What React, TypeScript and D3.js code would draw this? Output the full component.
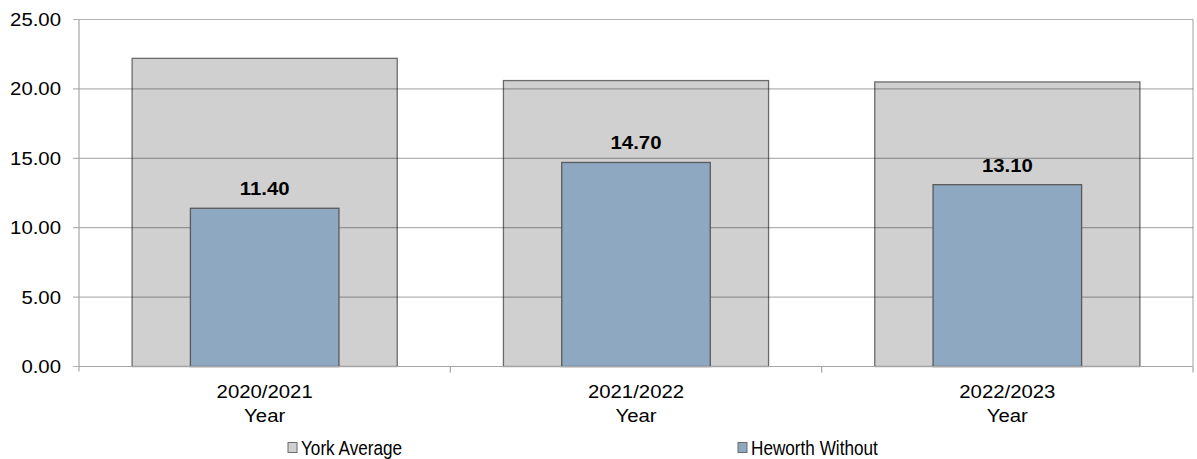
import React from "react";
import * as d3 from "d3";

const categories = ["2020/2021", "2021/2022", "2022/2023"];
const yorkAverage = [22.2, 20.6, 20.5];
const heworth = [11.4, 14.7, 13.1];
const yTicks = [0, 5, 10, 15, 20, 25];
const seriesNames = ["York Average", "Heworth Without"];

const W = 1197;
const H = 459;
const M = { left: 79, right: 1193, top: 19.5, bottom: 366.5 };
const FONT = "'Liberation Sans', Arial, sans-serif";

function T(props: {
  x: number;
  y: number;
  sx?: number;
  anchor?: string;
  size?: number;
  bold?: boolean;
  children: React.ReactNode;
}) {
  const { x, y, sx = 1.1, anchor = "start", size = 18.5, bold = false, children } = props;
  return (
    <text
      transform={`translate(${x},${y}) scale(${sx},1)`}
      textAnchor={anchor}
      fontSize={size}
      fontWeight={bold ? "bold" : "normal"}
      fill="#000"
    >
      {children}
    </text>
  );
}

export default function App() {
  const x = d3.scaleBand<string>().domain(categories).range([M.left, M.right]).padding(0);
  const y = d3.scaleLinear().domain([0, 25]).range([M.bottom, M.top]);
  const bw = x.bandwidth();
  const greyW = bw * 0.714;
  const blueW = bw * 0.4;

  return (
    <svg
      width={W}
      height={H}
      style={{ position: "absolute", left: 0, top: 0, background: "#fff" }}
      fontFamily={FONT}
    >
      {/* grey bars */}
      {categories.map((c, i) => {
        const cx = x(c)! + bw / 2;
        return (
          <rect
            key={"g" + c}
            x={cx - greyW / 2}
            y={y(yorkAverage[i])}
            width={greyW}
            height={y(0) - y(yorkAverage[i])}
            fill="#d0d0d0"
            stroke="#6b6b6b"
            strokeWidth={1.3}
          />
        );
      })}
      {/* gridlines (visible through the grey bars) */}
      {yTicks.map((t) => (
        <g key={t}>
          <line x1={M.left - 6} x2={M.right} y1={y(t)} y2={y(t)} stroke="#000" strokeOpacity={0.3} strokeWidth={1.2} />
          <T x={61} y={y(t) + 6.5} anchor="end">
            {t.toFixed(2)}
          </T>
        </g>
      ))}
      {/* right border */}
      <line x1={M.right} x2={M.right} y1={M.top} y2={M.bottom} stroke="#000" strokeOpacity={0.3} strokeWidth={1.2} />
      {/* blue bars */}
      {categories.map((c, i) => {
        const cx = x(c)! + bw / 2;
        return (
          <g key={"b" + c}>
            <rect
              x={cx - blueW / 2}
              y={y(heworth[i])}
              width={blueW}
              height={y(0) - y(heworth[i])}
              fill="#8ea8c2"
              stroke="#5a5a5a"
              strokeWidth={1.3}
            />
            <T x={cx} y={y(heworth[i]) - 13} anchor="middle" bold>
              {heworth[i].toFixed(2)}
            </T>
          </g>
        );
      })}
      {/* axes */}
      <line x1={M.left} x2={M.left} y1={M.top} y2={M.bottom + 5} stroke="#a6a6a6" strokeWidth={1.2} />
      <line x1={M.left} x2={M.right} y1={M.bottom} y2={M.bottom} stroke="#a6a6a6" strokeWidth={1.2} />
      {categories.map((c, i) => (
        <g key={"t" + c}>
          {i > 0 && (
            <line x1={x(c)!} x2={x(c)!} y1={M.bottom} y2={M.bottom + 6} stroke="#a6a6a6" strokeWidth={1.2} />
          )}
          <T x={x(c)! + bw / 2} y={398} anchor="middle">
            {c}
          </T>
          <T x={x(c)! + bw / 2} y={421.5} anchor="middle">
            Year
          </T>
        </g>
      ))}
      <line x1={M.right} x2={M.right} y1={M.bottom} y2={M.bottom + 6} stroke="#a6a6a6" strokeWidth={1.2} />
      {/* legend */}
      {seriesNames.map((s, i) => {
        const lx = i === 0 ? 288 : 738;
        return (
          <g key={s}>
            <rect
              x={lx}
              y={442.5}
              width={9}
              height={10}
              fill={i === 0 ? "#d0d0d0" : "#8ea8c2"}
              stroke="#6b6b6b"
              strokeWidth={1}
            />
            <T x={lx + 13} y={455} sx={0.88} size={19.5}>
              {s}
            </T>
          </g>
        );
      })}
    </svg>
  );
}
